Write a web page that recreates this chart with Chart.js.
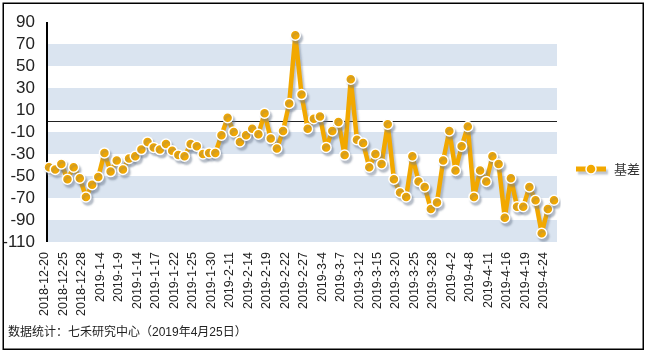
<!DOCTYPE html>
<html>
<head>
<meta charset="utf-8">
<script src="https://cdn.jsdelivr.net/npm/chart.js@4"></script>
<style>
  html, body { margin: 0; padding: 0; background: #fff; }
  #wrap { width: 647px; height: 354px; }
</style>
</head>
<body>
<div id="wrap"><canvas id="chart" width="647" height="354"></canvas></div>
<script>
// ---- 数据 ----
const dates = [
  '2018-12-20','2018-12-21','2018-12-24','2018-12-25','2018-12-26','2018-12-27','2018-12-28',
  '2019-1-2','2019-1-3','2019-1-4','2019-1-7','2019-1-8','2019-1-9','2019-1-10','2019-1-11',
  '2019-1-14','2019-1-15','2019-1-16','2019-1-17','2019-1-18','2019-1-21','2019-1-22','2019-1-23',
  '2019-1-24','2019-1-25','2019-1-28','2019-1-29','2019-1-30','2019-1-31','2019-2-1',
  '2019-2-11','2019-2-12','2019-2-13','2019-2-14','2019-2-15','2019-2-18','2019-2-19','2019-2-20',
  '2019-2-21','2019-2-22','2019-2-25','2019-2-26','2019-2-27','2019-2-28','2019-3-1',
  '2019-3-4','2019-3-5','2019-3-6','2019-3-7','2019-3-8','2019-3-11','2019-3-12','2019-3-13',
  '2019-3-14','2019-3-15','2019-3-18','2019-3-19','2019-3-20','2019-3-21','2019-3-22',
  '2019-3-25','2019-3-26','2019-3-27','2019-3-28','2019-3-29','2019-4-1','2019-4-2','2019-4-3',
  '2019-4-4','2019-4-8','2019-4-9','2019-4-10','2019-4-11','2019-4-12','2019-4-15','2019-4-16',
  '2019-4-17','2019-4-18','2019-4-19','2019-4-22','2019-4-23','2019-4-24','2019-4-25'
];
const basis = [
  -42, -44, -39, -53, -42, -52, -69, -58, -51, -29, -46, -36, -44, -34, -32,
  -26, -19, -24, -26, -21, -27, -31, -32, -21, -23, -30, -29, -29, -13, 3,
  -10, -19, -13, -7, -12, 7, -16, -25, -9, 16, 78, 24, -7, 2, 4,
  -24, -9, -1, -31, 38, -17, -20, -42, -30, -39, -3, -53, -65, -69, -32,
  -55, -60, -80, -74, -36, -9, -45, -23, -5, -69, -45, -55, -32, -39, -88,
  -52, -78, -78, -60, -72, -102, -80, -72
];
const seriesName = '基差';
const yMin = -110, yMax = 90, yStep = 20;
const labelEvery = 3;
const footNote = '数据统计：七禾研究中心（2019年4月25日）';

const ORANGE = '#f2a800';
const BAND = '#dae4f0';
const FONT = "'Liberation Sans', Arial, 'Noto Sans CJK SC', sans-serif";

// 背景条纹、零线、y轴线
const backdrop = {
  id: 'backdrop',
  beforeDatasetsDraw(chart) {
    const { ctx, chartArea: a, scales: { y } } = chart;
    const ticks = y.ticks.map(t => t.value).sort((p, q) => p - q);
    ctx.save();
    ctx.fillStyle = BAND;
    for (let i = 0; i + 1 < ticks.length; i += 2) {
      const top = y.getPixelForValue(ticks[i + 1]);
      const bot = y.getPixelForValue(ticks[i]);
      ctx.fillRect(a.left - 2, top, a.right - a.left + 5, bot - top);
    }
    const z = Math.round(y.getPixelForValue(0)) + 0.5;
    ctx.strokeStyle = '#222';
    ctx.lineWidth = 1;
    ctx.beginPath(); ctx.moveTo(a.left - 2, z); ctx.lineTo(a.right + 3, z); ctx.stroke();
    ctx.lineWidth = 2;
    ctx.strokeStyle = '#000';
    ctx.beginPath(); ctx.moveTo(a.left - 2, a.top); ctx.lineTo(a.left - 2, a.bottom); ctx.stroke();
    ctx.restore();
  },
  beforeDatasetDraw(chart) {
    const ctx = chart.ctx;
    ctx.save();
    ctx.shadowColor = 'rgba(110,125,145,0.45)';
    ctx.shadowOffsetX = 2;
    ctx.shadowOffsetY = 3;
    ctx.shadowBlur = 2;
  },
  afterDatasetDraw(chart) { chart.ctx.restore(); },
  afterDraw(chart) {
    const { ctx, chartArea: a } = chart;
    ctx.save();
    // 图例
    const lx = a.right + 22, ly = 169;
    ctx.shadowColor = 'rgba(110,125,145,0.45)';
    ctx.shadowOffsetX = 2; ctx.shadowOffsetY = 3; ctx.shadowBlur = 2;
    ctx.strokeStyle = ORANGE; ctx.lineWidth = 5;
    ctx.beginPath(); ctx.moveTo(lx, ly); ctx.lineTo(lx + 30, ly); ctx.stroke();
    ctx.shadowColor = 'transparent';
    ctx.fillStyle = ORANGE; ctx.strokeStyle = '#fff'; ctx.lineWidth = 1.5;
    ctx.beginPath(); ctx.arc(lx + 15, ly, 5, 0, Math.PI * 2); ctx.fill(); ctx.stroke();
    ctx.fillStyle = '#333';
    ctx.font = "13px 'Noto Sans CJK SC', sans-serif";
    ctx.textBaseline = 'middle';
    ctx.fillText(chart.data.datasets[0].label, lx + 38, ly);
    // 脚注
    ctx.fillStyle = '#222';
    ctx.font = '12px ' + FONT;
    ctx.fillText(footNote, 8, 333);
    // 外框
    ctx.strokeStyle = '#000'; ctx.lineWidth = 1.5;
    ctx.strokeRect(3.25, 3.25, 640, 346);
    ctx.restore();
  }
};

new Chart(document.getElementById('chart'), {
  type: 'line',
  data: {
    labels: dates,
    datasets: [{
      label: seriesName,
      data: basis,
      borderColor: ORANGE,
      borderWidth: 4.5,
      borderJoinStyle: 'round',
      borderCapStyle: 'round',
      backgroundColor: ORANGE,
      pointBackgroundColor: ORANGE,
      pointBorderColor: '#fff',
      pointBorderWidth: 1.5,
      pointRadius: 5,
      tension: 0,
      fill: false
    }]
  },
  options: {
    responsive: false,
    animation: false,
    devicePixelRatio: 1,
    layout: { padding: { left: 0, top: 22, right: 93, bottom: 0 } },
    plugins: { legend: { display: false }, tooltip: { enabled: false } },
    scales: {
      x: {
        type: 'category',
        offset: false,
        grid: { display: false },
        border: { display: false },
        afterFit: s => { s.height = 112; },
        ticks: {
          autoSkip: false,
          minRotation: 90,
          maxRotation: 90,
          padding: 2,
          labelOffset: -4,
          color: '#222',
          font: { family: FONT, size: 12.5 },
          callback: (v, i) => (i % labelEvery === 0 ? dates[i] : '')
        }
      },
      y: {
        min: yMin,
        max: yMax,
        grid: { display: false },
        border: { display: false },
        afterFit: s => { s.width = 49; },
        ticks: {
          stepSize: yStep,
          autoSkip: false,
          padding: 6,
          color: '#222',
          font: { family: FONT, size: 17 }
        }
      }
    }
  },
  plugins: [backdrop]
});
</script>
</body>
</html>
